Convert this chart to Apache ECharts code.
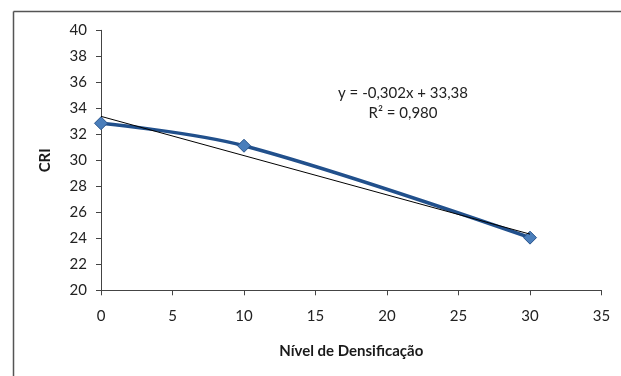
<!DOCTYPE html>
<html><head><meta charset="utf-8">
<script src="https://cdn.jsdelivr.net/npm/echarts@6/dist/echarts.min.js"></script>
<style>html,body{margin:0;padding:0;background:#fff}#c{width:621px;height:376px}</style>
</head><body><div id="c"></div>
<script>
const xValues = [0, 10, 30];
const criValues = [32.85, 31.12, 24.05];
const trendX = [0, 30];
const trendY = [33.38, 24.32];
const xTicks = [0, 5, 10, 15, 20, 25, 30, 35];
const yTicks = [20, 22, 24, 26, 28, 30, 32, 34, 36, 38, 40];
const eqText = 'y = -0,302x + 33,38';
const r2Text = 'R² = 0,980';
const xTitle = 'Nível de Densificação';
const yTitle = 'CRI';

const font = 'Lato, "Open Sans", sans-serif';
const chart = echarts.init(document.getElementById('c'), null, {renderer: 'canvas'});
chart.setOption({
  animation: false,
  grid: {left: 101, right: 19.5, top: 30.3, bottom: 85.7},
  xAxis: {
    type: 'value', min: xTicks[0], max: xTicks[xTicks.length - 1], interval: 5,
    name: xTitle, nameLocation: 'middle', nameGap: 53,
    nameTextStyle: {fontFamily: font, fontSize: 15, fontWeight: 'bold', color: '#1a1a1a'},
    axisLine: {show: true, lineStyle: {color: '#444', width: 1}},
    axisTick: {show: true, length: 5, lineStyle: {color: '#444'}},
    axisLabel: {fontFamily: font, fontSize: 15, color: '#222', margin: 18},
    splitLine: {show: false}
  },
  yAxis: {
    type: 'value', min: yTicks[0], max: yTicks[yTicks.length - 1], interval: 2,
    name: yTitle, nameLocation: 'middle', nameGap: 48, nameRotate: 90,
    nameTextStyle: {fontFamily: font, fontSize: 15, fontWeight: 'bold', color: '#1a1a1a'},
    axisLine: {show: true, lineStyle: {color: '#444', width: 1}},
    axisTick: {show: true, length: 5, lineStyle: {color: '#444'}},
    axisLabel: {fontFamily: font, fontSize: 15, color: '#222', margin: 14},
    splitLine: {show: false}
  },
  series: [
    {
      type: 'line', data: xValues.map((x, i) => [x, criValues[i]]),
      smooth: 0.35, symbol: 'diamond', symbolSize: 13,
      lineStyle: {color: '#21508c', width: 3.5},
      itemStyle: {color: '#4a7ebb', borderColor: '#2a558c', borderWidth: 1},
      z: 3
    },
    {
      type: 'line', data: trendX.map((x, i) => [x, trendY[i]]),
      symbol: 'none', lineStyle: {color: '#000', width: 1}, z: 4
    }
  ],
  graphic: [
    {type: 'line', shape: {x1: 13.5, y1: 11.5, x2: 621, y2: 11.5}, style: {stroke: '#555', lineWidth: 1.5}},
    {type: 'line', shape: {x1: 13.5, y1: 11.5, x2: 13.5, y2: 376}, style: {stroke: '#555', lineWidth: 1.5}},
    {type: 'text', x: 403, y: 93, style: {text: eqText, font: '15px ' + font, fill: '#222', align: 'center', verticalAlign: 'middle'}},
    {type: 'text', x: 403, y: 113, style: {text: r2Text, font: '15px ' + font, fill: '#222', align: 'center', verticalAlign: 'middle'}}
  ]
});
</script></body></html>
